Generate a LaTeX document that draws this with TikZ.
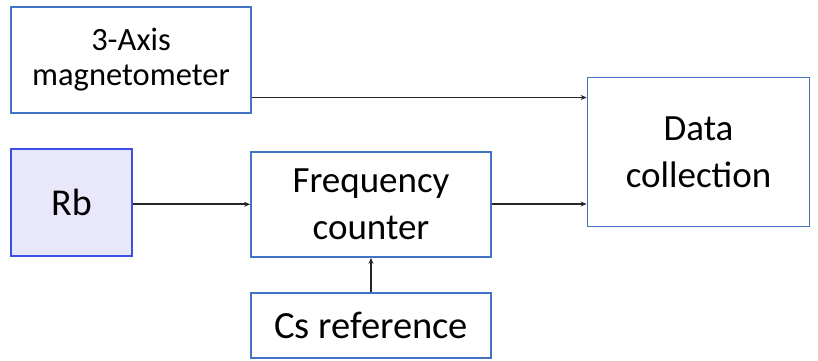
\documentclass[tikz,border=0pt]{standalone}
\usepackage{fontspec}
\setmainfont{Carlito}
\usetikzlibrary{arrows.meta}
\definecolor{boxblue}{HTML}{4472C4}
\definecolor{rbblue}{HTML}{3D4FEA}
\definecolor{rbfill}{HTML}{E8E8FA}
\tikzset{
  blockbox/.style={draw=boxblue, line width=1.8pt, fill=white, inner sep=0pt, align=center},
  rbbox/.style={draw=rbblue, line width=1.8pt, fill=rbfill, inner sep=0pt, align=center},
  conn/.style={draw=black!85, line width=1.7pt, -{Stealth[length=6pt,width=5pt]}},
}
\begin{document}
\begin{tikzpicture}[x=1pt,y=-1pt]
\useasboundingbox (0,0) rectangle (818,360);
\node[blockbox, minimum width=240pt, minimum height=106pt, font=\fontsize{32.5}{35}\selectfont] (mag) at (131,60) {3-Axis\\magnetometer};
\node[rbbox, minimum width=121pt, minimum height=107pt, font=\fontsize{38}{40}\selectfont] (rb) at (71.5,202.5) {Rb};
\node[blockbox, minimum width=240pt, minimum height=105pt, font=\fontsize{37}{46.7}\selectfont] (fc) at (371,204.5) {Frequency\\counter};
\node[blockbox, minimum width=240pt, minimum height=65pt, font=\fontsize{38.5}{40}\selectfont] (cs) at (371,325.5) {Cs reference};
\node[blockbox, minimum width=222pt, minimum height=149pt, font=\fontsize{37}{46.7}\selectfont] (dc) at (698.5,152) {Data\\collection};
\coordinate (magout) at (mag.east |- 0,97.5);
\coordinate (dcin1) at (dc.west |- 0,97.5);
\draw[conn, line width=1.5pt] (magout) -- (dcin1);
\draw[conn] (rb.east |- 0,204.3) -- (fc.west |- 0,204.3);
\draw[conn, line width=2.3pt] (fc.east |- 0,204) -- (dc.west |- 0,204);
\draw[conn] (cs.north) -- (fc.south);
\end{tikzpicture}
\end{document}
